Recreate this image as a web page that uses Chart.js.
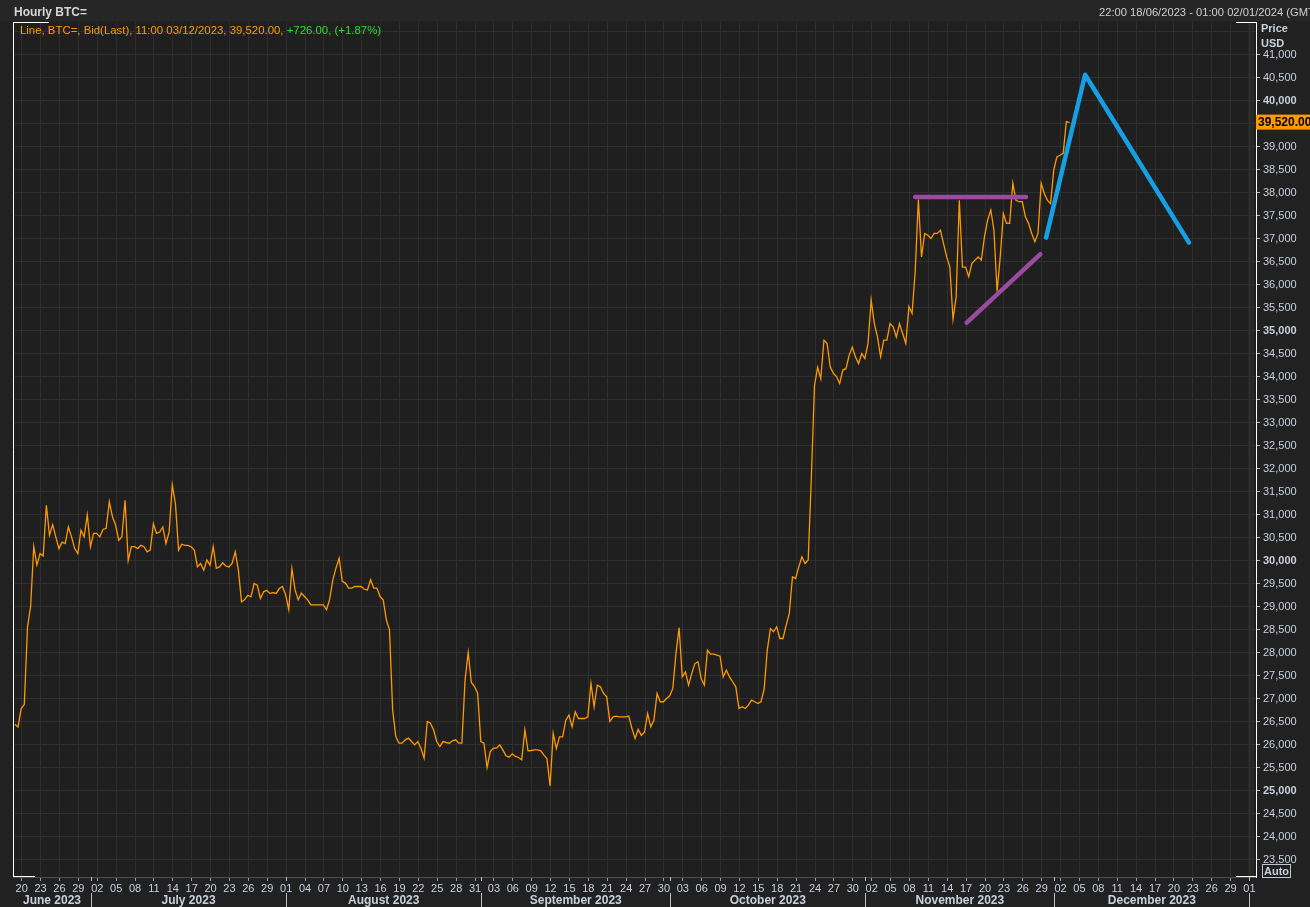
<!DOCTYPE html>
<html>
<head>
<meta charset="utf-8">
<title>Hourly BTC=</title>
<script src="https://cdn.jsdelivr.net/npm/chart.js@4.4.1/dist/chart.umd.min.js"></script>
<style>
  html, body { margin: 0; padding: 0; background: #212121; overflow: hidden; }
  #wrap { width: 1310px; height: 907px; }
</style>
</head>
<body>
<div id="wrap"><canvas id="chart" width="1310" height="907"></canvas></div>
<script>
// --- DATA ---
// x values are days counted from 20/06/2023 00:00
const START_DAY = -1.083;   // first reading, 22:00 18/06/2023
const STEP_DAYS = 0.5;      // one reading every 12 hours

const btcPrices = [
  26440, 26380, 26780, 26870, 28550, 29000, 30300, 29900, 30150, 30100,
  31200, 30550, 30780, 30515, 30260, 30400, 30370, 30730, 30515, 30260,
  30150, 30660, 30515, 30990, 30300, 30590, 30590, 30515, 30675, 30700,
  31275, 30950, 30770, 30440, 30515, 31310, 30000, 30300, 30300, 30260,
  30330, 30300, 30190, 30225, 30800, 30590, 30620, 30730, 30370, 30620,
  31640, 31240, 30225, 30355, 30330, 30330, 30300, 30225, 29860, 29935,
  29790, 30010, 29900, 30300, 29830, 29860, 29950, 29880, 29860, 29935,
  30190, 29790, 29100, 29150, 29245, 29210, 29500, 29465, 29175, 29320,
  29355, 29285, 29300, 29285, 29390, 29435, 29255, 28930, 29825, 29360,
  29145, 29290, 29217, 29145, 29035, 29035, 29035, 29035, 29035, 28930,
  29160, 29580, 29835, 30050, 29545, 29510, 29400, 29400, 29435, 29435,
  29435, 29375, 29360, 29580, 29400, 29400, 29217, 29145, 28710, 28493,
  26754, 26174, 26029, 26029, 26102, 26138, 26065, 25993, 26065, 25920,
  25703, 26500, 26464, 26319, 26065, 25957, 26065, 26044, 26029, 26080,
  26102, 26029, 26029, 27400, 28000, 27350, 27261, 27116, 26065, 26029,
  25500, 25848, 25920, 25920, 25993, 25884, 25754, 25725, 25797, 25740,
  25718, 25667, 26319, 25862, 25870, 25884, 25884, 25870, 25776, 25696,
  25100, 26240, 25913, 26167, 26167, 26530, 26638, 26385, 26711, 26566,
  26566, 26566, 26602, 27326, 26820, 27290, 27254, 27110, 27037, 26500,
  26602, 26617, 26602, 26602, 26602, 26617, 26350, 26130, 26327, 26200,
  26270, 26675, 26385, 26530, 27110, 26930, 26930, 27000, 27060, 27220,
  27980, 28540, 27471, 27580, 27290, 27540, 27760, 27800, 27435, 27290,
  28050, 27965, 27965, 27943, 27920, 27471, 27616, 27471, 27365, 27255,
  26783, 26820, 26783, 26855, 26965, 26930, 26892, 26930, 27200, 28051,
  28520, 28450, 28560, 28305, 28305, 28595, 28850, 29645, 29610, 29862,
  30080, 29935, 30010, 31800, 33800, 34200, 33950, 34790, 34720, 34210,
  34070, 34000, 33850, 34140, 34170, 34460, 34640, 34430, 34280, 34500,
  34390, 34720, 35660, 35150, 34860, 34430, 34790, 34790, 35150, 35080,
  34860, 35150, 34935, 34720, 35520, 35370, 36300, 37850, 36600, 37110,
  37070, 37000, 37110, 37110, 37180, 36890, 36600, 36380, 35250, 35730,
  37830, 36380, 36380, 36170, 36460, 36530, 36600, 36530, 37040, 37400,
  37620, 37180, 35850, 36600, 37540, 37330, 37330, 38200, 37830, 37800,
  37800, 37470, 37330, 37110, 36930, 37110, 38200, 37980, 37830, 37760,
  38490, 38775, 38810, 38850, 39540, 39520
];

// hand-drawn annotations
const trendDays = [162.7, 168.9, 185.4];
const trendPrices = [37020, 40560, 36910];
const resistanceDays = [141.9, 159.5];
const resistancePrices = [37900, 37900];
const supportDays = [150.1, 161.8];
const supportPrices = [35170, 36660];

const monthNames = ["June 2023", "July 2023", "August 2023", "September 2023",
                    "October 2023", "November 2023", "December 2023"];
const monthStarts = [-1.38, 11, 42, 73, 103, 134, 164, 195];

const priceTicks = [23500, 24000, 24500, 25000, 25500, 26000, 26500, 27000, 27500,
  28000, 28500, 29000, 29500, 30000, 30500, 31000, 31500, 32000, 32500, 33000,
  33500, 34000, 34500, 35000, 35500, 36000, 36500, 37000, 37500, 38000, 38500,
  39000, 39500, 40000, 40500, 41000, 41500];

const LAST_PRICE = 39520;

// --- SETTINGS ---
const FONT = '"Liberation Sans", Arial, sans-serif';
const LABEL_COLOR = '#c9d0dc';
const X_MIN = -1.38, X_MAX = 196.04;
const Y_MIN = 23120, Y_MAX = 41707;

const dayTicks = [];
for (let d = 0; d <= 195; d += 3) dayTicks.push(d);

const toPoints = (days, prices) => days.map((d, i) => ({ x: d, y: prices[i] }));
const btcPoints = btcPrices.map((p, i) => ({ x: START_DAY + i * STEP_DAYS, y: p }));

function dayLabel(v) {
  const dt = new Date(2023, 5, 20 + v);
  return String(dt.getDate()).padStart(2, '0');
}

// backgrounds, frame and all the texts around the plot
const framePlugin = {
  id: 'framePlugin',
  beforeDraw(chart) {
    const { ctx, chartArea: a } = chart;
    ctx.save();
    ctx.fillStyle = '#212121';
    ctx.fillRect(0, 0, chart.width, chart.height);
    ctx.fillStyle = '#262626';
    ctx.fillRect(0, 0, chart.width, 21);
    ctx.fillStyle = '#1f1f1f';
    ctx.fillRect(a.left, a.top, a.right - a.left, a.bottom - a.top);
    ctx.fillStyle = '#282828';
    ctx.fillRect(a.right - 8, a.top, 6, a.bottom - a.top);
    ctx.restore();
  },
  afterDraw(chart) {
    const { ctx, chartArea: a, scales } = chart;
    const xs = scales.x, ys = scales.y;
    ctx.save();

    // white frame pieces
    ctx.strokeStyle = '#ffffff';
    ctx.lineWidth = 1;
    ctx.beginPath();
    ctx.moveTo(a.left + 0.5, a.top); ctx.lineTo(a.left + 0.5, a.bottom);
    ctx.moveTo(a.left, a.top + 0.5); ctx.lineTo(a.left + 36, a.top + 0.5);
    ctx.moveTo(a.left, a.bottom - 0.5); ctx.lineTo(a.left + 22, a.bottom - 0.5);
    ctx.moveTo(a.right - 20, a.top + 0.5); ctx.lineTo(a.right, a.top + 0.5);
    ctx.moveTo(a.right - 20, a.bottom - 0.5); ctx.lineTo(a.right, a.bottom - 0.5);
    ctx.stroke();

    // header
    ctx.textBaseline = 'middle';
    ctx.fillStyle = '#d6d6d6';
    ctx.font = 'bold 12px ' + FONT;
    ctx.textAlign = 'left';
    ctx.fillText('Hourly BTC=', 14, 13);
    ctx.font = '11.2px ' + FONT;
    ctx.fillStyle = '#cfcfcf';
    ctx.fillText('22:00 18/06/2023 - 01:00 02/01/2024 (GMT)', 1099, 13);

    // legend line
    ctx.font = '11.4px ' + FONT;
    const part1 = 'Line, BTC=, Bid(Last), 11:00 03/12/2023, 39,520.00, ';
    ctx.fillStyle = '#ff9a00';
    ctx.fillText(part1, 20, 31);
    ctx.fillStyle = '#2fdc2f';
    ctx.fillText('+726.00, (+1.87%)', 20 + ctx.measureText(part1).width, 31);

    // axis title
    ctx.fillStyle = LABEL_COLOR;
    ctx.font = 'bold 11px ' + FONT;
    ctx.fillText('Price', 1261, 29);
    ctx.fillText('USD', 1261, 44);

    // last price box
    const py = ys.getPixelForValue(LAST_PRICE);
    ctx.fillStyle = '#ff9a00';
    ctx.fillRect(a.right, py - 8, chart.width - a.right, 15);
    ctx.fillStyle = '#000000';
    ctx.font = 'bold 12px ' + FONT;
    ctx.fillText('39,520.00', a.right + 2, py);

    // Auto button
    ctx.strokeStyle = '#bfc6d2';
    ctx.strokeRect(1262.5, 864.5, 28, 13);
    ctx.fillStyle = LABEL_COLOR;
    ctx.font = 'bold 11px ' + FONT;
    ctx.textAlign = 'center';
    ctx.fillText('Auto', 1276.5, 871.5);

    // month boundaries and month names
    ctx.strokeStyle = '#bdbdbd';
    ctx.beginPath();
    for (let i = 1; i < monthStarts.length; i++) {
      const x = Math.round(xs.getPixelForValue(monthStarts[i])) + 0.5;
      ctx.moveTo(x, a.bottom); ctx.lineTo(x, a.bottom + 4);
      ctx.moveTo(x, 893); ctx.lineTo(x, 907);
    }
    ctx.stroke();
    ctx.fillStyle = LABEL_COLOR;
    ctx.font = 'bold 12px ' + FONT;
    for (let i = 0; i < monthNames.length; i++) {
      const x0 = xs.getPixelForValue(Math.max(monthStarts[i], X_MIN));
      const x1 = xs.getPixelForValue(Math.min(monthStarts[i + 1], X_MAX));
      ctx.fillText(monthNames[i], (x0 + x1) / 2, 901);
    }
    ctx.restore();
  }
};

const lineStyle = (color, width) => ({
  borderColor: color,
  borderWidth: width,
  pointRadius: 0,
  fill: false,
  tension: 0,
  borderCapStyle: 'round',
  borderJoinStyle: 'round'
});

new Chart(document.getElementById('chart'), {
  type: 'line',
  data: {
    datasets: [
      { label: 'Trend', data: toPoints(trendDays, trendPrices), ...lineStyle('#16a0e3', 4.5), order: 1 },
      { label: 'Resistance', data: toPoints(resistanceDays, resistancePrices), ...lineStyle('#9b4b9f', 4.5), order: 2 },
      { label: 'Support', data: toPoints(supportDays, supportPrices), ...lineStyle('#9b4b9f', 4.5), order: 3 },
      { label: 'BTC=', data: btcPoints, ...lineStyle('#ff9900', 1.3), borderCapStyle: 'butt', borderJoinStyle: 'miter', order: 10 }
    ]
  },
  options: {
    responsive: false,
    animation: false,
    devicePixelRatio: 1,
    layout: { padding: { left: 13, top: 22, right: 0, bottom: 0 } },
    plugins: {
      legend: { display: false },
      tooltip: { enabled: false }
    },
    scales: {
      x: {
        type: 'linear',
        min: X_MIN,
        max: X_MAX,
        afterBuildTicks: (scale) => { scale.ticks = dayTicks.map(v => ({ value: v })); },
        afterFit: (scale) => { scale.height = 30; },
        grid: { color: '#2e2e2e', tickColor: '#9aa0aa', tickLength: 4 },
        border: { color: '#4e4e4e' },
        ticks: {
          autoSkip: false,
          maxRotation: 0,
          padding: 1,
          color: LABEL_COLOR,
          font: { family: FONT, size: 11 },
          callback: (v) => dayLabel(v)
        }
      },
      y: {
        position: 'right',
        min: Y_MIN,
        max: Y_MAX,
        afterBuildTicks: (scale) => { scale.ticks = priceTicks.map(v => ({ value: v })); },
        afterFit: (scale) => { scale.width = 54; },
        grid: {
          color: '#2e2e2e',
          tickLength: 4,
          tickColor: (c) => (c.tick && c.tick.value === 41500) ? 'rgba(0,0,0,0)' : '#b4bac4'
        },
        border: { color: '#ffffff' },
        ticks: {
          padding: 3,
          color: LABEL_COLOR,
          font: (c) => ({ family: FONT, size: 11, weight: (c.tick && c.tick.value % 5000 === 0) ? 'bold' : 'normal' }),
          callback: (v) => v === 41500 ? '' : v.toLocaleString('en-US')
        }
      }
    }
  },
  plugins: [framePlugin]
});
</script>
</body>
</html>
